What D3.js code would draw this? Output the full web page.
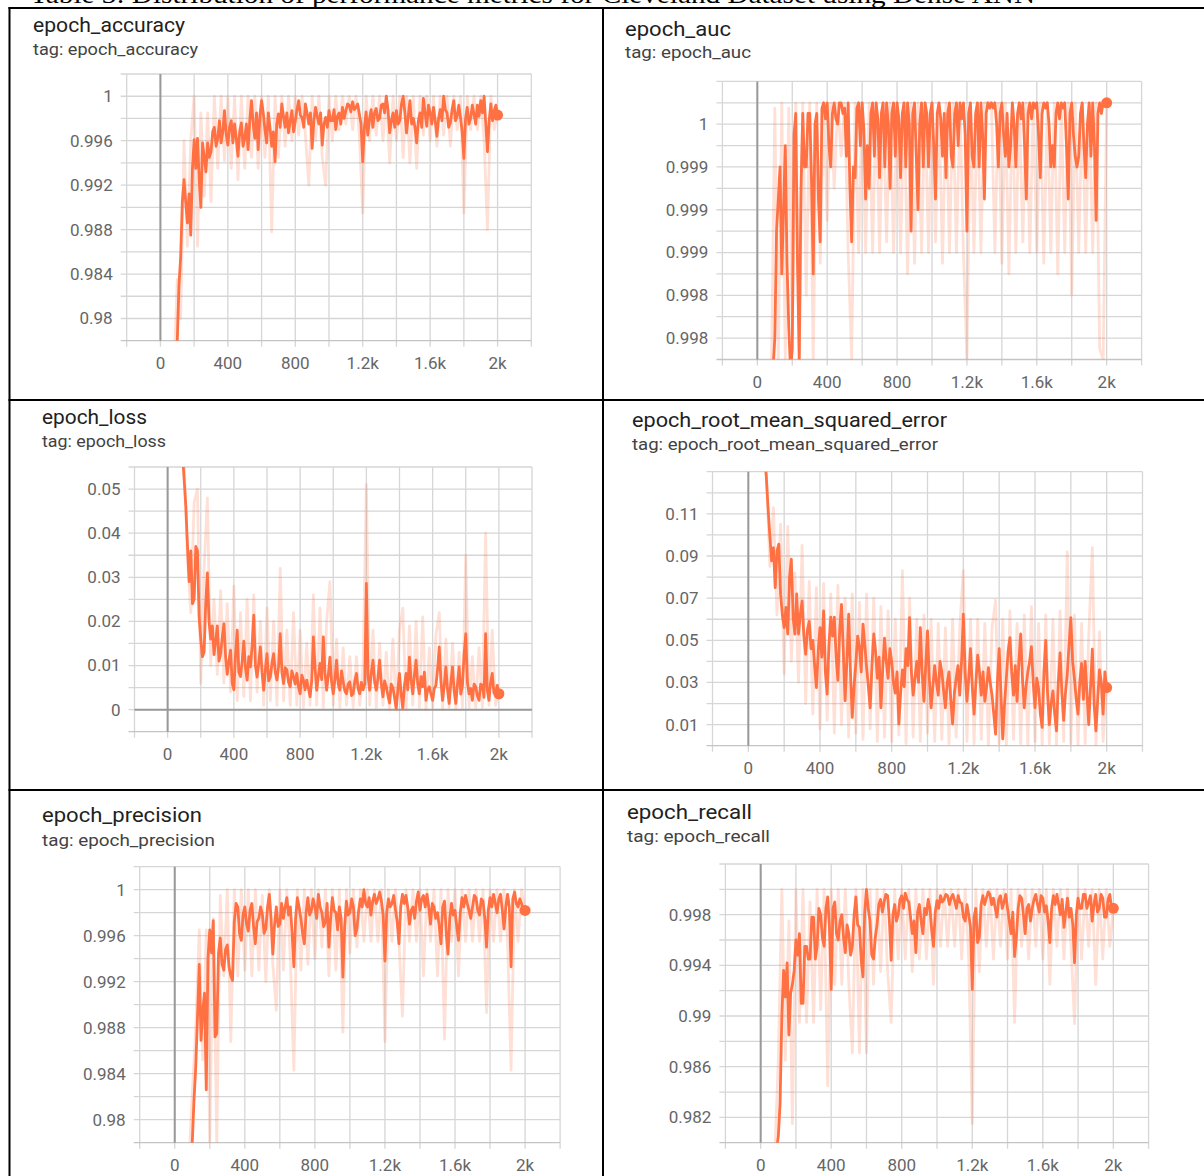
<!DOCTYPE html>
<html>
<head>
<meta charset="utf-8">
<script src="https://cdn.jsdelivr.net/npm/d3@7"></script>
<style>
  body { margin: 0; background: #fff; }
  svg { display: block; }
</style>
</head>
<body>
<script>
// Epochs of the smoothed curves (every 10 epochs)
const epochs = [
  80,90,100,110,120,130,140,150,160,170,180,190,200,210,220,230,240,250,260,270,
  280,290,300,310,320,330,340,350,360,370,380,390,400,410,420,430,440,450,460,470,
  480,490,500,510,520,530,540,550,560,570,580,590,600,610,620,630,640,650,660,670,
  680,690,700,710,720,730,740,750,760,770,780,790,800,810,820,830,840,850,860,870,
  880,890,900,910,920,930,940,950,960,970,980,990,1000,1010,1020,1030,1040,1050,1060,1070,
  1080,1090,1100,1110,1120,1130,1140,1150,1160,1170,1180,1190,1200,1210,1220,1230,1240,1250,1260,1270,
  1280,1290,1300,1310,1320,1330,1340,1350,1360,1370,1380,1390,1400,1410,1420,1430,1440,1450,1460,1470,
  1480,1490,1500,1510,1520,1530,1540,1550,1560,1570,1580,1590,1600,1610,1620,1630,1640,1650,1660,1670,
  1680,1690,1700,1710,1720,1730,1740,1750,1760,1770,1780,1790,1800,1810,1820,1830,1840,1850,1860,1870,
  1880,1890,1900,1910,1920,1930,1940,1950,1960,1970,1980,1990,2000
];
// Epochs of the raw (faint) curves (every 20 epochs)
const rawEpochs = [
  80,100,120,140,160,180,200,220,240,260,
  280,300,320,340,360,380,400,420,440,460,
  480,500,520,540,560,580,600,620,640,660,
  680,700,720,740,760,780,800,820,840,860,
  880,900,920,940,960,980,1000,1020,1040,1060,
  1080,1100,1120,1140,1160,1180,1200,1220,1240,1260,
  1280,1300,1320,1340,1360,1380,1400,1420,1440,1460,
  1480,1500,1520,1540,1560,1580,1600,1620,1640,1660,
  1680,1700,1720,1740,1760,1780,1800,1820,1840,1860,
  1880,1900,1920,1940,1960,1980,2000
];

// epoch_accuracy
const accSmooth = [
  0.970,0.9745,0.978,0.983,0.9855,0.9905,0.9925,0.9905,0.9886,0.9912,0.9875,0.9935,0.9961,0.9935,0.9962,0.9925,0.990,0.9958,0.9945,0.9932,
  0.9958,0.9945,0.995,0.9968,0.9972,0.9955,0.9962,0.9978,0.9958,0.9968,0.9987,0.9966,0.9956,0.9972,0.9978,0.9958,0.9975,0.9962,0.9946,0.9968,
  0.9976,0.9955,0.9962,0.9975,0.9952,0.9978,0.9996,0.9975,0.9962,0.9985,0.9952,0.9982,0.9996,0.9985,0.997,0.9958,0.9985,0.9972,0.9955,0.9968,
  0.9941,0.9975,0.9984,0.9972,0.9993,0.9982,0.9972,0.9985,0.9967,0.9978,0.9987,0.9968,0.9978,0.9988,0.9996,0.9983,0.9981,0.9972,0.9993,0.9985,
  0.9975,0.9985,0.9953,0.9978,0.999,0.9982,0.9975,0.9985,0.9956,0.9975,0.9981,0.9972,0.9987,0.9978,0.9978,0.9988,0.997,0.9982,0.9985,0.9975,
  0.999,0.998,0.9987,0.9993,0.9992,0.9986,0.9995,0.9988,0.999,0.9993,0.9984,0.9975,0.9941,0.9972,0.9986,0.9965,0.9979,0.9988,0.9972,0.9985,
  0.9989,0.9978,0.998,0.9992,0.9993,0.9985,1.0,0.9988,0.9967,0.9978,0.9985,0.9972,0.9987,0.9975,0.9978,0.9993,1.0,0.9985,0.9967,0.9982,
  0.9996,0.9975,0.998,0.9972,0.9958,0.9978,0.9985,0.9972,0.9998,0.9985,0.9973,0.9992,0.9985,0.9975,0.999,0.9978,0.9964,0.998,0.9988,0.9978,
  1.0,0.9988,0.9985,0.9972,0.9976,0.9988,0.9996,0.9978,0.9982,0.9992,0.9981,0.9968,0.9944,0.998,0.999,0.9975,0.998,0.9992,0.9984,0.9975,
  0.9992,0.9982,0.9996,0.9985,1.0,0.9975,0.995,0.9978,0.9993,0.9978,0.9987,0.9992,0.9983
];
const accRaw = [
  0.975,0.9835,0.980,0.996,0.9865,0.996,1.0,0.9865,0.9985,0.991,
  0.9985,0.9905,1.0,0.9935,1.0,0.9942,1.0,0.9935,1.0,0.9925,
  1.0,0.9935,1.0,0.9945,1.0,0.9935,1.0,0.9945,1.0,0.9878,
  1.0,0.9945,1.0,0.9955,1.0,0.996,1.0,0.9965,1.0,0.9965,
  0.992,1.0,0.996,1.0,0.9945,0.992,1.0,0.996,1.0,0.997,
  1.0,0.9975,1.0,0.997,1.0,0.9965,0.9895,1.0,0.996,1.0,
  0.9965,1.0,0.996,1.0,0.994,1.0,0.996,1.0,0.9945,1.0,
  0.994,1.0,0.9935,1.0,0.9965,1.0,0.996,1.0,0.9955,1.0,
  0.9965,1.0,0.9955,1.0,0.997,1.0,0.9895,1.0,0.997,1.0,
  0.997,1.0,0.996,0.988,1.0,0.997,0.9985
];

// epoch_auc
const aucSmooth = [
  0.9974,0.9975,0.9978,0.9988,0.9991,0.9994,0.9984,0.999,0.9996,0.9985,0.9979,0.9975,0.9977,0.9997,0.9999,0.9985,0.9976,0.9992,0.9999,0.9994,
  0.9994,0.9999,0.9999,0.9993,0.9984,0.9998,0.9999,0.9991,0.9987,0.99995,1.0,0.99985,1.0,0.9996,0.9994,0.9999,1.0,0.99985,0.9998,1.0,
  1.0,0.9999,0.99995,0.9995,1.0,0.9992,0.9987,0.9994,0.9993,0.99995,1.0,0.9996,1.0,0.99975,0.9991,0.9996,0.9992,0.9999,1.0,0.9995,
  1.0,0.99985,0.9993,0.9999,1.0,0.9994,1.0,0.9998,0.9992,0.9999,1.0,0.9995,1.0,0.99985,0.9993,0.9999,1.0,0.9994,1.0,0.9998,
  0.9988,0.9999,1.0,0.9995,0.999,0.9998,1.0,0.9994,1.0,0.9999,0.9994,0.9999,1.0,0.9996,0.9991,0.9999,1.0,0.99985,0.9995,0.9999,
  0.9993,0.9999,1.0,0.9995,0.9994,0.9999,1.0,0.9996,1.0,0.99985,1.0,0.9997,0.9988,0.9999,1.0,0.9995,0.9994,0.9999,1.0,0.9994,
  1.0,0.9997,0.9991,0.9999,1.0,0.99995,1.0,0.99995,1.0,0.9998,0.9994,0.9999,1.0,0.9997,0.9995,0.9999,0.9994,0.9996,1.0,0.9998,
  0.9994,0.9999,1.0,0.99985,1.0,0.9996,0.9991,0.9999,1.0,0.99985,1.0,0.99995,1.0,0.9997,0.9993,0.9999,1.0,0.99995,1.0,0.9998,
  0.9994,0.9996,0.9994,0.9999,1.0,0.99985,1.0,0.99995,1.0,0.9996,0.9991,0.9999,1.0,0.9997,0.9995,0.9994,0.9995,0.9999,1.0,0.9996,
  0.9993,0.9998,1.0,0.9995,1.0,0.9996,0.9989,0.9999,1.0,0.9999,1.0,1.0,1.0
];
const aucRaw = [
  0.9974,0.99995,0.9976,1.0,0.9976,0.99995,0.9978,1.0,0.9976,1.0,
  0.9982,1.0,0.9976,1.0,0.9985,1.0,0.9989,1.0,0.9992,1.0,
  0.9995,1.0,0.9986,0.9976,1.0,0.9986,1.0,0.9986,1.0,0.9986,
  1.0,0.9986,1.0,0.9987,1.0,0.9986,1.0,0.9986,1.0,0.9984,
  1.0,0.9985,1.0,0.9986,1.0,0.9986,1.0,0.9987,1.0,0.9985,
  1.0,0.9986,1.0,0.9986,1.0,0.9986,0.9976,1.0,0.9986,1.0,
  0.9986,1.0,1.0,1.0,0.9986,1.0,0.9985,1.0,0.9984,1.0,
  0.9986,1.0,0.9987,1.0,0.9986,1.0,0.9986,1.0,0.9985,1.0,
  0.9986,1.0,0.9984,1.0,0.9986,1.0,0.9982,1.0,0.9986,1.0,
  0.9986,1.0,0.9986,1.0,0.9977,0.9976,1.0
];

// epoch_loss
const lossSmooth = [
  0.062,0.058,0.052,0.046,0.037,0.029,0.036,0.024,0.025,0.037,0.036,0.021,0.016,0.012,0.013,0.024,0.031,0.020,0.016,0.019,
  0.0125,0.0155,0.019,0.011,0.0127,0.0165,0.0195,0.012,0.008,0.011,0.0135,0.006,0.0045,0.0125,0.018,0.0085,0.0075,0.011,0.0155,0.0095,
  0.0067,0.012,0.0097,0.0145,0.0214,0.010,0.0074,0.0105,0.0142,0.0085,0.0044,0.009,0.0127,0.0065,0.0074,0.0105,0.0127,0.0085,0.0067,0.0098,
  0.0172,0.0085,0.0059,0.0095,0.009,0.0062,0.0052,0.0088,0.0075,0.0058,0.0082,0.0052,0.0036,0.0078,0.0067,0.0045,0.0067,0.0048,0.0029,0.0065,
  0.0165,0.0095,0.0044,0.0075,0.0105,0.0068,0.0165,0.0085,0.0044,0.0078,0.0119,0.0062,0.0036,0.0068,0.0112,0.0058,0.0044,0.0088,0.0063,0.0042,
  0.0036,0.0058,0.0063,0.0032,0.0036,0.0065,0.0082,0.0048,0.0036,0.0062,0.0045,0.0058,0.0286,0.0075,0.0044,0.0085,0.0112,0.0062,0.0044,0.0072,
  0.0112,0.0058,0.0029,0.0065,0.0052,0.0032,0.0015,0.0058,0.005,0.0028,0.0002,0.0045,0.0082,0.0035,0.0002,0.0055,0.0082,0.0045,0.0119,0.0068,
  0.0036,0.0078,0.0112,0.0058,0.0036,0.0075,0.0052,0.0085,0.0021,0.0045,0.0052,0.0035,0.0021,0.0048,0.0055,0.0092,0.0142,0.0065,0.0021,0.0055,
  0.0097,0.0045,0.0014,0.0062,0.0097,0.0042,0.0014,0.0058,0.0097,0.0035,0.0055,0.0125,0.0172,0.0062,0.0036,0.0048,0.0021,0.0058,0.0052,0.0032,
  0.0021,0.0058,0.0055,0.0028,0.0172,0.0045,0.0021,0.0062,0.0082,0.0038,0.0036,0.0055,0.0036
];
const lossRaw = [
  0.065,0.056,0.034,0.022,0.047,0.050,0.006,0.032,0.048,0.010,
  0.025,0.008,0.027,0.006,0.024,0.004,0.028,0.002,0.022,0.003,
  0.025,0.002,0.026,0.004,0.020,0.001,0.023,0.002,0.020,0.001,
  0.032,0.002,0.018,0.001,0.022,0.001,0.018,0.0005,0.015,0.001,
  0.026,0.001,0.023,0.0005,0.020,0.029,0.001,0.016,0.0005,0.014,
  0.001,0.012,0.0005,0.012,0.001,0.010,0.051,0.001,0.018,0.0005,
  0.015,0.001,0.013,0.0,0.016,0.0,0.018,0.023,0.0,0.019,
  0.001,0.020,0.0005,0.021,0.0,0.014,0.0005,0.017,0.022,0.0,
  0.016,0.0005,0.015,0.0,0.013,0.0005,0.035,0.0005,0.012,0.0005,
  0.014,0.0005,0.040,0.001,0.018,0.001,0.004
];

// epoch_root_mean_squared_error
const rmseSmooth = [
  0.145,0.138,0.128,0.113,0.0995,0.0877,0.094,0.075,0.0924,0.0956,0.0719,0.062,0.056,0.0656,0.053,0.080,0.0885,0.0608,0.053,0.072,
  0.053,0.062,0.0687,0.052,0.0434,0.055,0.059,0.046,0.050,0.038,0.0276,0.045,0.056,0.042,0.064,0.035,0.0245,0.048,0.061,0.052,
  0.061,0.042,0.031,0.055,0.067,0.045,0.0213,0.040,0.0624,0.035,0.0134,0.028,0.039,0.052,0.047,0.035,0.0577,0.048,0.037,0.028,
  0.018,0.038,0.053,0.045,0.032,0.042,0.018,0.036,0.051,0.040,0.032,0.046,0.040,0.030,0.025,0.035,0.0103,0.025,0.036,0.028,
  0.046,0.038,0.0608,0.035,0.024,0.032,0.040,0.030,0.056,0.035,0.021,0.038,0.0545,0.032,0.018,0.028,0.038,0.030,0.024,0.040,
  0.035,0.026,0.018,0.030,0.035,0.022,0.0103,0.025,0.032,0.038,0.024,0.040,0.0624,0.035,0.021,0.032,0.046,0.028,0.015,0.030,
  0.043,0.035,0.024,0.035,0.021,0.028,0.037,0.030,0.024,0.015,0.0055,0.030,0.046,0.025,0.0032,0.020,0.032,0.045,0.0513,0.035,
  0.024,0.038,0.021,0.040,0.053,0.032,0.018,0.028,0.035,0.040,0.047,0.030,0.018,0.032,0.027,0.015,0.0087,0.035,0.050,0.025,
  0.010,0.020,0.026,0.015,0.007,0.030,0.044,0.025,0.012,0.025,0.034,0.048,0.0608,0.040,0.032,0.022,0.015,0.030,0.039,0.022,
  0.040,0.025,0.010,0.028,0.0458,0.020,0.007,0.022,0.036,0.030,0.015,0.035,0.0276
];
const rmseRaw = [
  0.150,0.132,0.085,0.113,0.062,0.105,0.034,0.104,0.040,0.082,
  0.030,0.095,0.020,0.078,0.015,0.075,0.008,0.077,0.012,0.072,
  0.006,0.076,0.010,0.070,0.004,0.072,0.006,0.068,0.003,0.072,
  0.008,0.070,0.002,0.066,0.004,0.064,0.002,0.060,0.005,0.083,
  0.001,0.070,0.004,0.060,0.002,0.062,0.006,0.060,0.002,0.058,
  0.003,0.056,0.001,0.060,0.004,0.056,0.083,0.002,0.060,0.001,
  0.060,0.003,0.058,0.000,0.056,0.069,0.001,0.060,0.000,0.064,
  0.003,0.058,0.001,0.062,0.000,0.066,0.002,0.058,0.000,0.062,
  0.001,0.060,0.000,0.064,0.002,0.092,0.001,0.062,0.000,0.058,
  0.001,0.052,0.094,0.000,0.054,0.002,0.028
];

// epoch_precision
const precSmooth = [
  0.975,0.9765,0.978,0.9817,0.9846,0.9889,0.9935,0.9869,0.9895,0.991,0.9826,0.9941,0.9965,0.9945,0.9973,0.9872,0.9875,0.9945,0.9958,0.9935,
  0.993,0.9948,0.9952,0.9933,0.9925,0.9921,0.9972,0.9988,0.9985,0.9962,0.9956,0.9978,0.9985,0.997,0.9964,0.9982,0.9988,0.9968,0.9953,0.9972,
  0.9975,0.9985,0.9979,0.9962,0.9966,0.9985,0.9996,0.9975,0.9944,0.997,0.9985,0.9968,0.997,0.9988,0.9975,0.9985,0.9993,0.9978,0.9985,0.9962,
  0.9933,0.9975,0.9993,0.9985,0.9975,0.9962,0.9953,0.998,0.9993,0.9978,0.9982,0.9992,0.9985,0.9975,0.9996,0.9985,0.998,0.9968,0.9972,0.9988,
  0.995,0.9975,0.9993,0.9982,0.998,0.9965,0.9985,0.9975,0.9924,0.9968,0.999,0.9978,0.998,0.9992,0.9985,0.996,0.9966,0.9982,0.9992,0.9985,
  1.0,0.9988,0.9985,0.9993,0.9978,0.999,0.9996,0.9988,0.9992,0.9998,0.999,0.9978,0.9938,0.998,0.9992,0.9985,0.9988,0.9995,0.9983,0.9972,
  0.9953,0.9985,0.9996,0.9988,0.9995,0.9985,0.997,0.9982,0.9985,0.9975,0.999,0.9998,0.9982,0.9992,0.9995,0.9985,0.9996,0.9985,0.997,0.9988,
  0.9985,0.9975,0.998,0.9968,0.9953,0.9985,0.999,0.9962,0.9944,0.9975,0.9988,0.9978,0.9982,0.9968,0.9956,0.998,0.9993,0.9985,0.9995,0.9988,
  0.9982,0.9975,0.9985,0.9995,0.9993,0.9982,0.9978,0.9992,0.999,0.9975,0.995,0.9982,0.9993,0.9985,0.9996,0.9988,0.998,0.9992,0.9996,0.9982,
  0.9966,0.9985,0.9996,0.9985,0.9933,0.9992,0.9998,0.9988,0.9985,0.9992,0.9988,0.998,0.9982
];
const precRaw = [
  0.976,0.9822,0.988,0.9965,0.9852,0.9965,0.978,0.9975,0.978,0.9995,
  0.9925,1.0,0.9868,1.0,0.9925,1.0,0.993,1.0,0.9925,1.0,
  0.993,0.9995,0.992,1.0,0.9935,0.9895,1.0,0.993,1.0,0.994,
  0.9843,1.0,0.993,1.0,0.9935,1.0,0.994,1.0,0.995,1.0,
  0.9925,1.0,0.993,1.0,0.9876,1.0,0.9945,1.0,0.995,1.0,
  0.9955,1.0,0.9955,1.0,0.9955,1.0,0.9868,1.0,0.9955,1.0,
  0.9955,0.989,1.0,0.9955,1.0,0.9955,1.0,0.9925,1.0,0.9955,
  1.0,0.9925,1.0,0.987,1.0,0.9955,1.0,0.9925,1.0,0.9955,
  1.0,0.9955,1.0,0.9955,1.0,0.9893,1.0,0.9955,1.0,0.9955,
  1.0,0.9955,0.9843,1.0,0.9955,1.0,0.9982
];

// epoch_recall
const recSmooth = [
  0.979,0.9795,0.9805,0.9831,0.99,0.9936,0.9915,0.9942,0.9885,0.9918,0.9925,0.9936,0.996,0.9948,0.9965,0.991,0.991,0.9955,0.9955,0.9945,
  0.9945,0.9978,0.9978,0.9945,0.9955,0.9985,0.998,0.9962,0.9955,0.9985,0.9994,0.997,0.9921,0.9985,0.999,0.9965,0.996,0.9975,0.998,0.9962,
  0.995,0.9972,0.9965,0.9948,0.9955,0.998,0.9994,0.9972,0.997,0.9945,0.9931,0.9982,1.0,0.9985,0.9975,0.9948,0.9945,0.9962,0.9972,0.9988,
  0.9992,0.9982,0.999,0.9996,0.9995,0.9975,0.9944,0.998,0.9988,0.9975,0.998,0.9992,0.9995,0.9985,0.9997,0.9992,0.999,0.9978,0.9965,0.9975,
  0.995,0.9982,0.9988,0.9975,0.9965,0.9985,0.998,0.9992,0.9985,0.9968,0.9955,0.9982,0.9991,0.9985,0.9995,0.999,0.9992,0.9996,0.9995,0.9988,
  0.9993,0.9996,0.9991,0.9985,0.9995,0.999,0.9989,0.9978,0.9975,0.9988,0.998,0.997,0.9921,0.9978,0.9985,0.9958,0.9962,0.9988,0.9995,0.9988,
  0.9993,0.9998,0.9996,0.9988,0.9993,0.9985,0.9978,0.9992,0.9995,0.9985,0.999,0.9996,0.9985,0.9975,0.9965,0.9982,0.9947,0.9962,0.9985,0.9995,
  0.9993,0.998,0.9965,0.9985,0.9988,0.9975,0.9985,0.9992,0.9996,0.9988,0.9982,0.9995,0.9993,0.9982,0.9987,0.9975,0.9958,0.9985,0.9995,0.9988,
  0.9996,0.9988,0.998,0.9992,0.997,0.9982,0.9993,0.9978,0.9985,0.9972,0.9942,0.998,0.9993,0.9985,0.9985,0.9996,0.9996,0.9985,0.999,0.9995,
  0.9975,0.9988,0.9996,0.9982,0.9985,0.9996,0.9993,0.9978,0.9978,0.9992,0.9996,0.9985,0.9985
];
const recRaw = [
  0.979,0.9865,1.0,0.9865,0.9975,0.9815,1.0,0.9895,1.0,0.9895,
  0.999,0.9895,1.0,0.9905,1.0,0.9845,1.0,0.9925,1.0,0.9925,
  1.0,0.9925,0.9871,1.0,0.9871,1.0,0.9871,1.0,0.9925,1.0,
  0.9935,1.0,0.9935,0.9895,1.0,0.9945,1.0,0.9945,1.0,0.9935,
  1.0,0.9945,1.0,0.9945,1.0,0.9925,1.0,0.9955,1.0,0.9955,
  1.0,0.9955,1.0,0.9945,1.0,0.9945,0.9815,1.0,0.9935,1.0,
  0.9955,1.0,0.9945,1.0,0.9955,1.0,0.9945,1.0,0.9895,1.0,
  0.9955,1.0,0.9945,1.0,0.9955,1.0,0.9945,1.0,0.9925,1.0,
  0.9955,1.0,0.9945,1.0,0.9955,0.9894,1.0,0.9945,1.0,0.9955,
  1.0,0.9925,1.0,0.9945,1.0,0.9955,0.9985
];

// Axis ticks
const xGrid = [-200,0,200,400,600,800,1000,1200,1400,1600,1800,2000,2200];
const xLabels = [[0,"0"],[400,"400"],[800,"800"],[1200,"1.2k"],[1600,"1.6k"],[2000,"2k"]];

const accGrid = [0.978,0.98,0.982,0.984,0.986,0.988,0.99,0.992,0.994,0.996,0.998,1,1.002];
const accLabels = [[0.98,"0.98"],[0.984,"0.984"],[0.988,"0.988"],[0.992,"0.992"],[0.996,"0.996"],[1,"1"]];
const aucGrid = [0.9976,0.9978,0.998,0.9982,0.9984,0.9986,0.9988,0.999,0.9992,0.9994,0.9996,0.9998,1,1.0002];
const aucLabels = [[0.9978,"0.998"],[0.9982,"0.998"],[0.9986,"0.999"],[0.999,"0.999"],[0.9994,"0.999"],[0.9998,"1"]];
const lossGrid = [-0.005,0,0.005,0.01,0.015,0.02,0.025,0.03,0.035,0.04,0.045,0.05,0.055];
const lossLabels = [[0,"0"],[0.01,"0.01"],[0.02,"0.02"],[0.03,"0.03"],[0.04,"0.04"],[0.05,"0.05"]];
const rmseGrid = [0,0.01,0.02,0.03,0.04,0.05,0.06,0.07,0.08,0.09,0.1,0.11,0.12,0.13];
const rmseLabels = [[0.01,"0.01"],[0.03,"0.03"],[0.05,"0.05"],[0.07,"0.07"],[0.09,"0.09"],[0.11,"0.11"]];
const precGrid = accGrid;
const precLabels = accLabels;
const recGrid = [0.98,0.982,0.984,0.986,0.988,0.99,0.992,0.994,0.996,0.998,1,1.002];
const recLabels = [[0.982,"0.982"],[0.986,"0.986"],[0.99,"0.99"],[0.994,"0.994"],[0.998,"0.998"]];

const caption = "Table 3: Distribution of performance metrics for Cleveland Dataset using Dense ANN";

// Panels: layout + which arrays to draw
const panels = [
  {name: "epoch_accuracy", smooth: accSmooth, raw: accRaw, grid: accGrid, labels: accLabels,
   yDomain: [0.978, 1.002], left: 126.7, right: 531.3, top: 74, bottom: 340.7,
   tx: 33, ty: 32, tagY: 54.5, tw: 152, tagW: 165, zeroY: null},
  {name: "epoch_auc", smooth: aucSmooth, raw: aucRaw, grid: aucGrid, labels: aucLabels,
   yDomain: [0.9976, 1.0002], left: 722.4, right: 1141.6, top: 81.4, bottom: 359.5,
   tx: 625, ty: 35.5, tagY: 58, tw: 106, tagW: 126, zeroY: null},
  {name: "epoch_loss", smooth: lossSmooth, raw: lossRaw, grid: lossGrid, labels: lossLabels,
   yDomain: [-0.005, 0.055], left: 134.5, right: 532, top: 467, bottom: 731.7,
   tx: 42, ty: 424, tagY: 446.5, tw: 105, tagW: 124, zeroY: 0},
  {name: "epoch_root_mean_squared_error", smooth: rmseSmooth, raw: rmseRaw, grid: rmseGrid, labels: rmseLabels,
   yDomain: [0, 0.13], left: 712.5, right: 1142.5, top: 471.7, bottom: 745.7,
   tx: 632, ty: 427, tagY: 449.5, tw: 315, tagW: 306, zeroY: null},
  {name: "epoch_precision", smooth: precSmooth, raw: precRaw, grid: precGrid, labels: precLabels,
   yDomain: [0.978, 1.002], left: 139.7, right: 560.1, top: 866.7, bottom: 1142.7,
   tx: 42, ty: 822, tagY: 845.5, tw: 160, tagW: 173, zeroY: null},
  {name: "epoch_recall", smooth: recSmooth, raw: recRaw, grid: recGrid, labels: recLabels,
   yDomain: [0.98, 1.002], left: 725.4, right: 1148.6, top: 864, bottom: 1142.7,
   tx: 627, ty: 819, tagY: 842, tw: 125, tagW: 143, zeroY: null}
];

const W = 1204, H = 1176;
const lineColor = "#ff7043";
const font = "Roboto, 'Noto Sans', sans-serif";

const svg = d3.select("body").append("svg")
  .attr("width", W)
  .attr("height", H)
  .attr("font-family", font);

// Caption, cut off by the top of the page as in the scanned table
svg.append("text")
  .attr("x", 30)
  .attr("y", 2.5)
  .attr("font-family", "'Liberation Serif', 'Times New Roman', serif")
  .attr("font-size", 25)
  .attr("textLength", 1005)
  .attr("lengthAdjust", "spacingAndGlyphs")
  .attr("fill", "#000")
  .text(caption);

panels.forEach((p, i) => drawPanel(p, i));

// Table rules
const rules = svg.append("g").attr("stroke", "#000").attr("stroke-width", 2);
[8, 400, 790].forEach(y => {
  rules.append("line").attr("x1", 8.5).attr("x2", W).attr("y1", y).attr("y2", y);
});
[9.5, 603].forEach(x => {
  rules.append("line").attr("x1", x).attr("x2", x).attr("y1", 7).attr("y2", H);
});

function drawPanel(p, i) {
  const x = d3.scaleLinear().domain([-200, 2200]).range([p.left, p.right]);
  const y = d3.scaleLinear().domain(p.yDomain).range([p.bottom, p.top]);
  const g = svg.append("g");

  // Title and tag
  g.append("text")
    .attr("x", p.tx).attr("y", p.ty)
    .attr("font-size", 20)
    .attr("fill", "#212121")
    .attr("textLength", p.tw)
    .attr("lengthAdjust", "spacingAndGlyphs")
    .text(p.name);
  g.append("text")
    .attr("x", p.tx).attr("y", p.tagY)
    .attr("font-size", 16)
    .attr("fill", "#424242")
    .attr("textLength", p.tagW)
    .attr("lengthAdjust", "spacingAndGlyphs")
    .text("tag: " + p.name);

  // Grid
  g.append("g")
    .selectAll("line")
    .data(xGrid)
    .join("line")
    .attr("x1", d => x(d)).attr("x2", d => x(d))
    .attr("y1", p.top).attr("y2", p.bottom + 6)
    .attr("stroke", "#d6d6d6")
    .attr("stroke-width", 1.3);

  g.append("g")
    .selectAll("line")
    .data(p.grid)
    .join("line")
    .attr("x1", p.left - 6).attr("x2", p.right)
    .attr("y1", d => y(d)).attr("y2", d => y(d))
    .attr("stroke", (d, k) => k === 0 ? "#c4c4c4" : "#d6d6d6")
    .attr("stroke-width", 1.3);

  // Zero lines
  g.append("line")
    .attr("x1", x(0)).attr("x2", x(0))
    .attr("y1", p.top).attr("y2", p.bottom)
    .attr("stroke", "#999")
    .attr("stroke-width", 2);
  if (p.zeroY !== null) {
    g.append("line")
      .attr("x1", p.left).attr("x2", p.right)
      .attr("y1", y(p.zeroY)).attr("y2", y(p.zeroY))
      .attr("stroke", "#999")
      .attr("stroke-width", 2);
  }

  // Tick labels
  g.append("g")
    .selectAll("text")
    .data(p.labels)
    .join("text")
    .attr("x", p.left - 14)
    .attr("y", d => y(d[0]))
    .attr("dy", "0.35em")
    .attr("text-anchor", "end")
    .attr("font-size", 17)
    .attr("fill", "#666")
    .text(d => d[1]);

  g.append("g")
    .selectAll("text")
    .data(xLabels)
    .join("text")
    .attr("x", d => x(d[0]))
    .attr("y", p.bottom + 22.5)
    .attr("dy", "0.35em")
    .attr("text-anchor", "middle")
    .attr("font-size", 17)
    .attr("fill", "#666")
    .text(d => d[1]);

  // Data (clipped to the plot area)
  const clipId = "clip" + i;
  svg.append("clipPath").attr("id", clipId)
    .append("rect")
    .attr("x", p.left).attr("y", p.top)
    .attr("width", p.right - p.left).attr("height", p.bottom - p.top);

  const plot = g.append("g").attr("clip-path", `url(#${clipId})`);
  const rawLine = d3.line().x((d, k) => x(rawEpochs[k])).y(d => y(d));
  const smoothLine = d3.line().x((d, k) => x(epochs[k])).y(d => y(d));

  plot.append("path")
    .datum(p.raw)
    .attr("d", rawLine)
    .attr("fill", "none")
    .attr("stroke", lineColor)
    .attr("stroke-opacity", 0.22)
    .attr("stroke-width", 2.8)
    .attr("stroke-linejoin", "round");

  plot.append("path")
    .datum(p.smooth)
    .attr("d", smoothLine)
    .attr("fill", "none")
    .attr("stroke", lineColor)
    .attr("stroke-width", 2.8)
    .attr("stroke-linejoin", "round");

  const last = p.smooth.length - 1;
  g.append("circle")
    .attr("cx", x(epochs[last]))
    .attr("cy", y(p.smooth[last]))
    .attr("r", 5.5)
    .attr("fill", lineColor);
}
</script>
</body>
</html>
